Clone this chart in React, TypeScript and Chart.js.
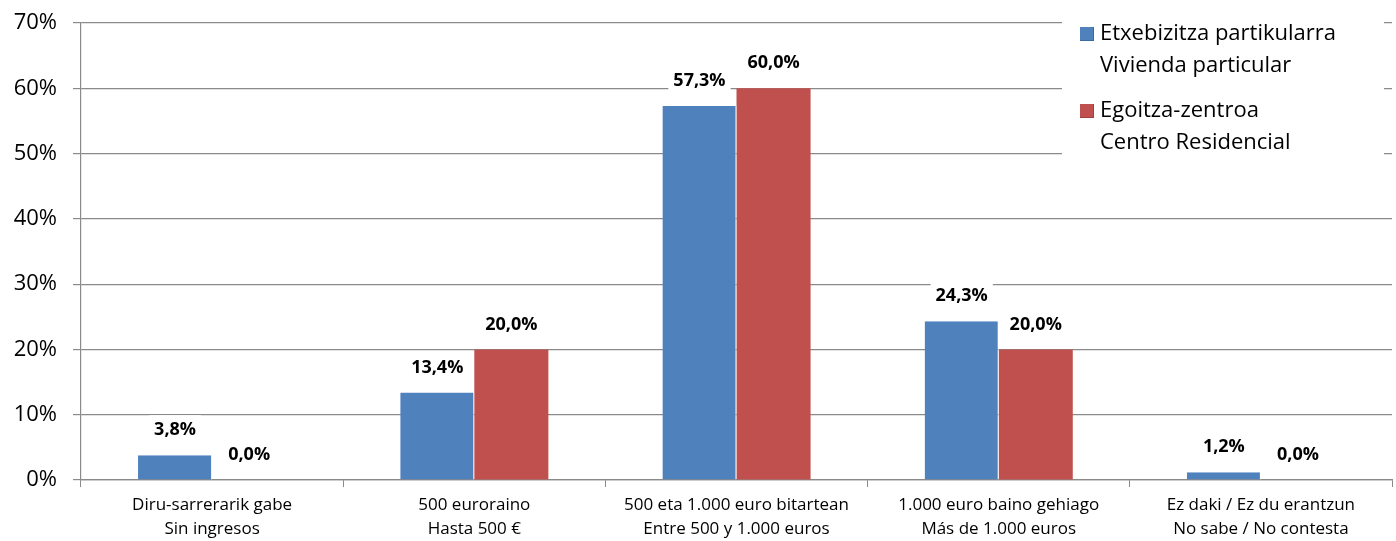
import React, { useEffect, useRef } from "react";
import { Chart, registerables } from "chart.js";

Chart.register(...registerables);

const categories: string[][] = [
  ["Diru-sarrerarik gabe", "Sin ingresos"],
  ["500 euroraino", "Hasta 500 €"],
  ["500 eta 1.000 euro bitartean", "Entre 500 y 1.000 euros"],
  ["1.000 euro baino gehiago", "Más de 1.000 euros"],
  ["Ez daki / Ez du erantzun", "No sabe / No contesta"],
];
const seriesNames: string[][] = [
  ["Etxebizitza partikularra", "Vivienda particular"],
  ["Egoitza-zentroa", "Centro Residencial"],
];
const viviendaValues: number[] = [3.8, 13.4, 57.3, 24.3, 1.2];
const residencialValues: number[] = [0.0, 20.0, 60.0, 20.0, 0.0];
const seriesColors: string[] = ["#4F81BD", "#C0504D"];
const seriesDark: string[] = ["#3A6AA3", "#A33E3B"];

const FONT = "'Open Sans', 'Noto Sans', sans-serif";

const labelPlugin = {
  id: "labelsAndLegend",
  afterDatasetsDraw(chart: any) {
    const ctx = chart.ctx;
    ctx.save();
    ctx.font = `bold 18px ${FONT}`;
    ctx.textAlign = "center";
    ctx.textBaseline = "middle";
    chart.data.datasets.forEach((ds: any, di: number) => {
      const meta = chart.getDatasetMeta(di);
      meta.data.forEach((bar: any, i: number) => {
        const v = ds.data[i] as number;
        const txt = v.toFixed(1).replace(".", ",") + "%";
        const cy = bar.y - 25;
        const w = ctx.measureText(txt).width + 10;
        ctx.fillStyle = "#ffffff";
        ctx.fillRect(bar.x - w / 2, cy - 15, w, 30);
        ctx.fillStyle = "#000000";
        ctx.fillText(txt, bar.x, cy);
      });
    });
    // legend
    ctx.fillStyle = "#ffffff";
    ctx.fillRect(1062, 10, 322, 156);
    ctx.font = `22px ${FONT}`;
    ctx.textAlign = "left";
    const tops = [34, 111];
    seriesNames.forEach((names, si) => {
      const y = tops[si];
      ctx.fillStyle = seriesColors[si];
      ctx.fillRect(1080, y - 7, 13, 13);
      ctx.fillStyle = seriesDark[si];
      ctx.fillRect(1080, y + 6, 14, 1);
      ctx.fillRect(1093, y - 7, 1, 14);
      ctx.fillStyle = "#000000";
      ctx.fillText(names[0], 1100, y);
      ctx.fillText(names[1], 1100, y + 32);
    });
    ctx.restore();
  },
};

export default function App() {
  const ref = useRef<HTMLCanvasElement | null>(null);
  useEffect(() => {
    if (!ref.current) return;
    const chart = new Chart(ref.current, {
      type: "bar",
      data: {
        labels: categories,
        datasets: [
          {
            label: seriesNames[0].join(" "),
            data: viviendaValues,
            backgroundColor: seriesColors[0],
            borderColor: "#ffffff",
            borderWidth: { left: 0, right: 1, top: 0, bottom: 0 },
            categoryPercentage: 0.565,
            barPercentage: 1,
          },
          {
            label: seriesNames[1].join(" "),
            data: residencialValues,
            backgroundColor: seriesColors[1],
            borderColor: "#ffffff",
            borderWidth: 0,
            categoryPercentage: 0.565,
            barPercentage: 1,
          },
        ],
      },
      options: {
        animation: false,
        responsive: false,
        maintainAspectRatio: false,
        layout: { autoPadding: false, padding: { left: 0, right: 4, top: 23, bottom: 0 } },
        plugins: {
          legend: { display: false },
          tooltip: { enabled: false },
        },
        scales: {
          y: {
            min: 0,
            max: 70,
            afterFit: (s: any) => {
              s.width = 81;
              s.paddingTop = 0;
              s.paddingBottom = 0;
            },
            ticks: {
              stepSize: 10,
              callback: (v: any) => v + "%",
              color: "#000000",
              font: { family: FONT, size: 22 },
              padding: 16,
            },
            grid: {
              color: "#8a8a8a",
              lineWidth: 1.2,
              tickLength: 8,
            },
            border: { color: "#8a8a8a", width: 1.2 },
          },
          x: {
            afterFit: (s: any) => {
              s.height = 61;
              s.paddingLeft = 0;
              s.paddingRight = 0;
            },
            ticks: {
              color: "#000000",
              font: { family: FONT, size: 17, lineHeight: 1.4 },
              padding: 6,
              maxRotation: 0,
              autoSkip: false,
            },
            grid: {
              offset: true,
              drawOnChartArea: false,
              color: "#8a8a8a",
              tickLength: 7,
            },
            border: { color: "#8a8a8a", width: 1.2 },
          },
        },
      },
      plugins: [labelPlugin],
    });
    return () => chart.destroy();
  }, []);
  return (
    <div style={{ position: "absolute", left: 0, top: 0, width: 1396, height: 541, background: "#fff" }}>
      <canvas ref={ref} width={1396} height={541} style={{ display: "block" }} />
    </div>
  );
}
